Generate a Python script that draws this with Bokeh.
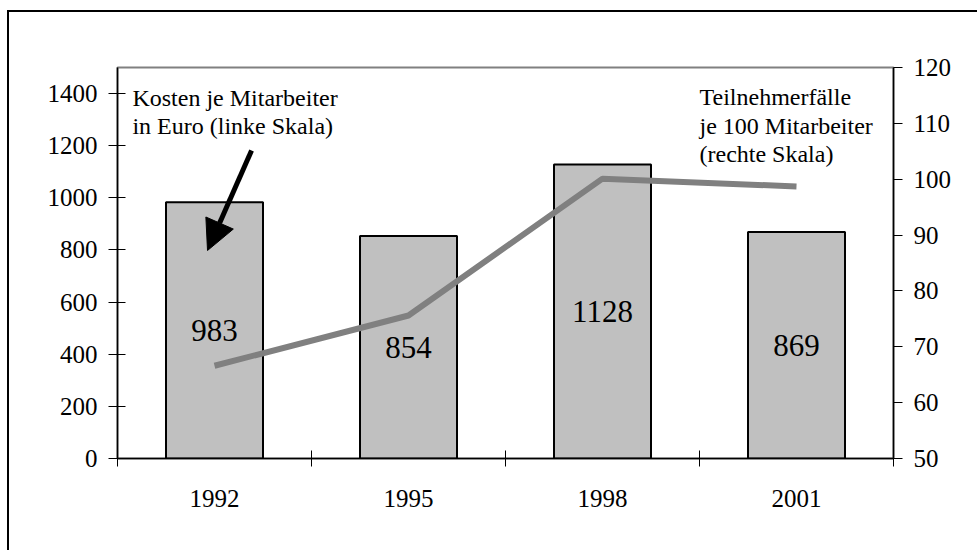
from bokeh.plotting import figure
from bokeh.models import Range1d, LinearAxis, FixedTicker, Label, Arrow, NormalHead, ColumnDataSource
from bokeh.embed import file_html
from bokeh.resources import INLINE
from bokeh.core.properties import value

# ---- data ----
years = ["1992", "1995", "1998", "2001"]
kosten = [983, 854, 1128, 869]              # Kosten je Mitarbeiter in Euro (linke Skala)
teilnehmer = [66.6, 75.6, 100.1, 98.7]       # Teilnehmerfälle je 100 Mitarbeiter (rechte Skala)
left_ticks = [0, 200, 400, 600, 800, 1000, 1200, 1400]
right_ticks = [50, 60, 70, 80, 90, 100, 110, 120]

FONT = "Liberation Serif"
xs = [i + 0.5 for i in range(len(years))]
bounds = [i for i in range(len(years) + 1)]

src = ColumnDataSource(dict(
    x=xs,
    kosten=kosten,
    half=[k / 2 for k in kosten],
    lab=[str(k) for k in kosten],
    teil=teilnehmer,
))

p = figure(frame_width=776, frame_height=391,
           x_range=Range1d(0, len(years)), y_range=Range1d(0, 1500),
           output_backend="svg", toolbar_location=None,
           min_border_left=108, min_border_top=55, min_border_right=84, min_border_bottom=92)
# outer chart-area border: only top/left edges visible (box continues beyond the window)
p.margin = (12, 0, 0, 9)
p.styles = {"box-shadow": "0px -2px 0px 0px black, -2px 0px 0px 0px black, -2px -2px 0px 0px black"}
p.background_fill_color = "white"
p.border_fill_color = "white"
p.outline_line_color = "#808080"
p.outline_line_width = 2
p.xgrid.visible = False
p.ygrid.visible = False

# x axis
xa = p.xaxis[0]
xa.ticker = FixedTicker(ticks=xs, minor_ticks=bounds)
xa.major_label_overrides = {x: y for x, y in zip(xs, years)}
xa.major_tick_in = 0
xa.major_tick_out = 0
xa.minor_tick_in = 8
xa.minor_tick_out = 8
xa.minor_tick_line_color = "black"
xa.axis_line_color = "black"
xa.axis_line_width = 1.5
xa.major_label_text_font = FONT
xa.major_label_text_font_size = "25px"
xa.major_label_text_color = "black"
xa.major_label_standoff = 23

# left axis
ya = p.yaxis[0]
ya.ticker = FixedTicker(ticks=left_ticks)
ya.major_tick_in = 8
ya.major_tick_out = 9
ya.minor_tick_line_color = None
ya.axis_line_color = "black"
ya.axis_line_width = 1.5
ya.major_tick_line_color = "black"
ya.major_label_text_font = FONT
ya.major_label_text_font_size = "25px"
ya.major_label_text_color = "black"
ya.major_label_standoff = 11

# right axis
p.extra_y_ranges = {"r": Range1d(50, 120)}
ra = LinearAxis(y_range_name="r", ticker=FixedTicker(ticks=right_ticks))
ra.major_tick_in = 0
ra.major_tick_out = 9
ra.minor_tick_line_color = None
ra.axis_line_color = "black"
ra.axis_line_width = 1.5
ra.major_label_text_font = FONT
ra.major_label_text_font_size = "25px"
ra.major_label_text_color = "black"
ra.major_label_standoff = 11
p.add_layout(ra, "right")

# bars
p.vbar(x="x", top="kosten", bottom=0, width=0.5, source=src,
       fill_color="#C0C0C0", line_color="black", line_width=2)

# line
p.line(x="x", y="teil", source=src, y_range_name="r",
       line_color="#808080", line_width=6)

# value labels
p.text(x="x", y="half", text="lab", source=src,
       text_font=value(FONT), text_font_size="31px",
       text_align="center", text_baseline="middle", text_color="black")

# annotations
for txt, yv in [("Kosten je Mitarbeiter", 1382), ("in Euro  (linke Skala)", 1276)]:
    p.add_layout(Label(x=0.077, y=yv, text=txt, text_font=FONT, text_font_size="24px",
                       text_baseline="alphabetic", text_color="black"))
for txt, yv in [("Teilnehmerfälle", 1385), ("je 100 Mitarbeiter", 1277), ("(rechte Skala)", 1170)]:
    p.add_layout(Label(x=3.0, y=yv, text=txt, text_font=FONT, text_font_size="24px",
                       text_baseline="alphabetic", text_color="black"))

p.add_layout(Arrow(end=NormalHead(size=30, fill_color="black", line_color="black", line_width=1),
                   x_start=0.691, y_start=1182, x_end=0.464, y_end=798,
                   line_width=5, line_color="black"))

open("out.html", "w").write(file_html(p, INLINE))
